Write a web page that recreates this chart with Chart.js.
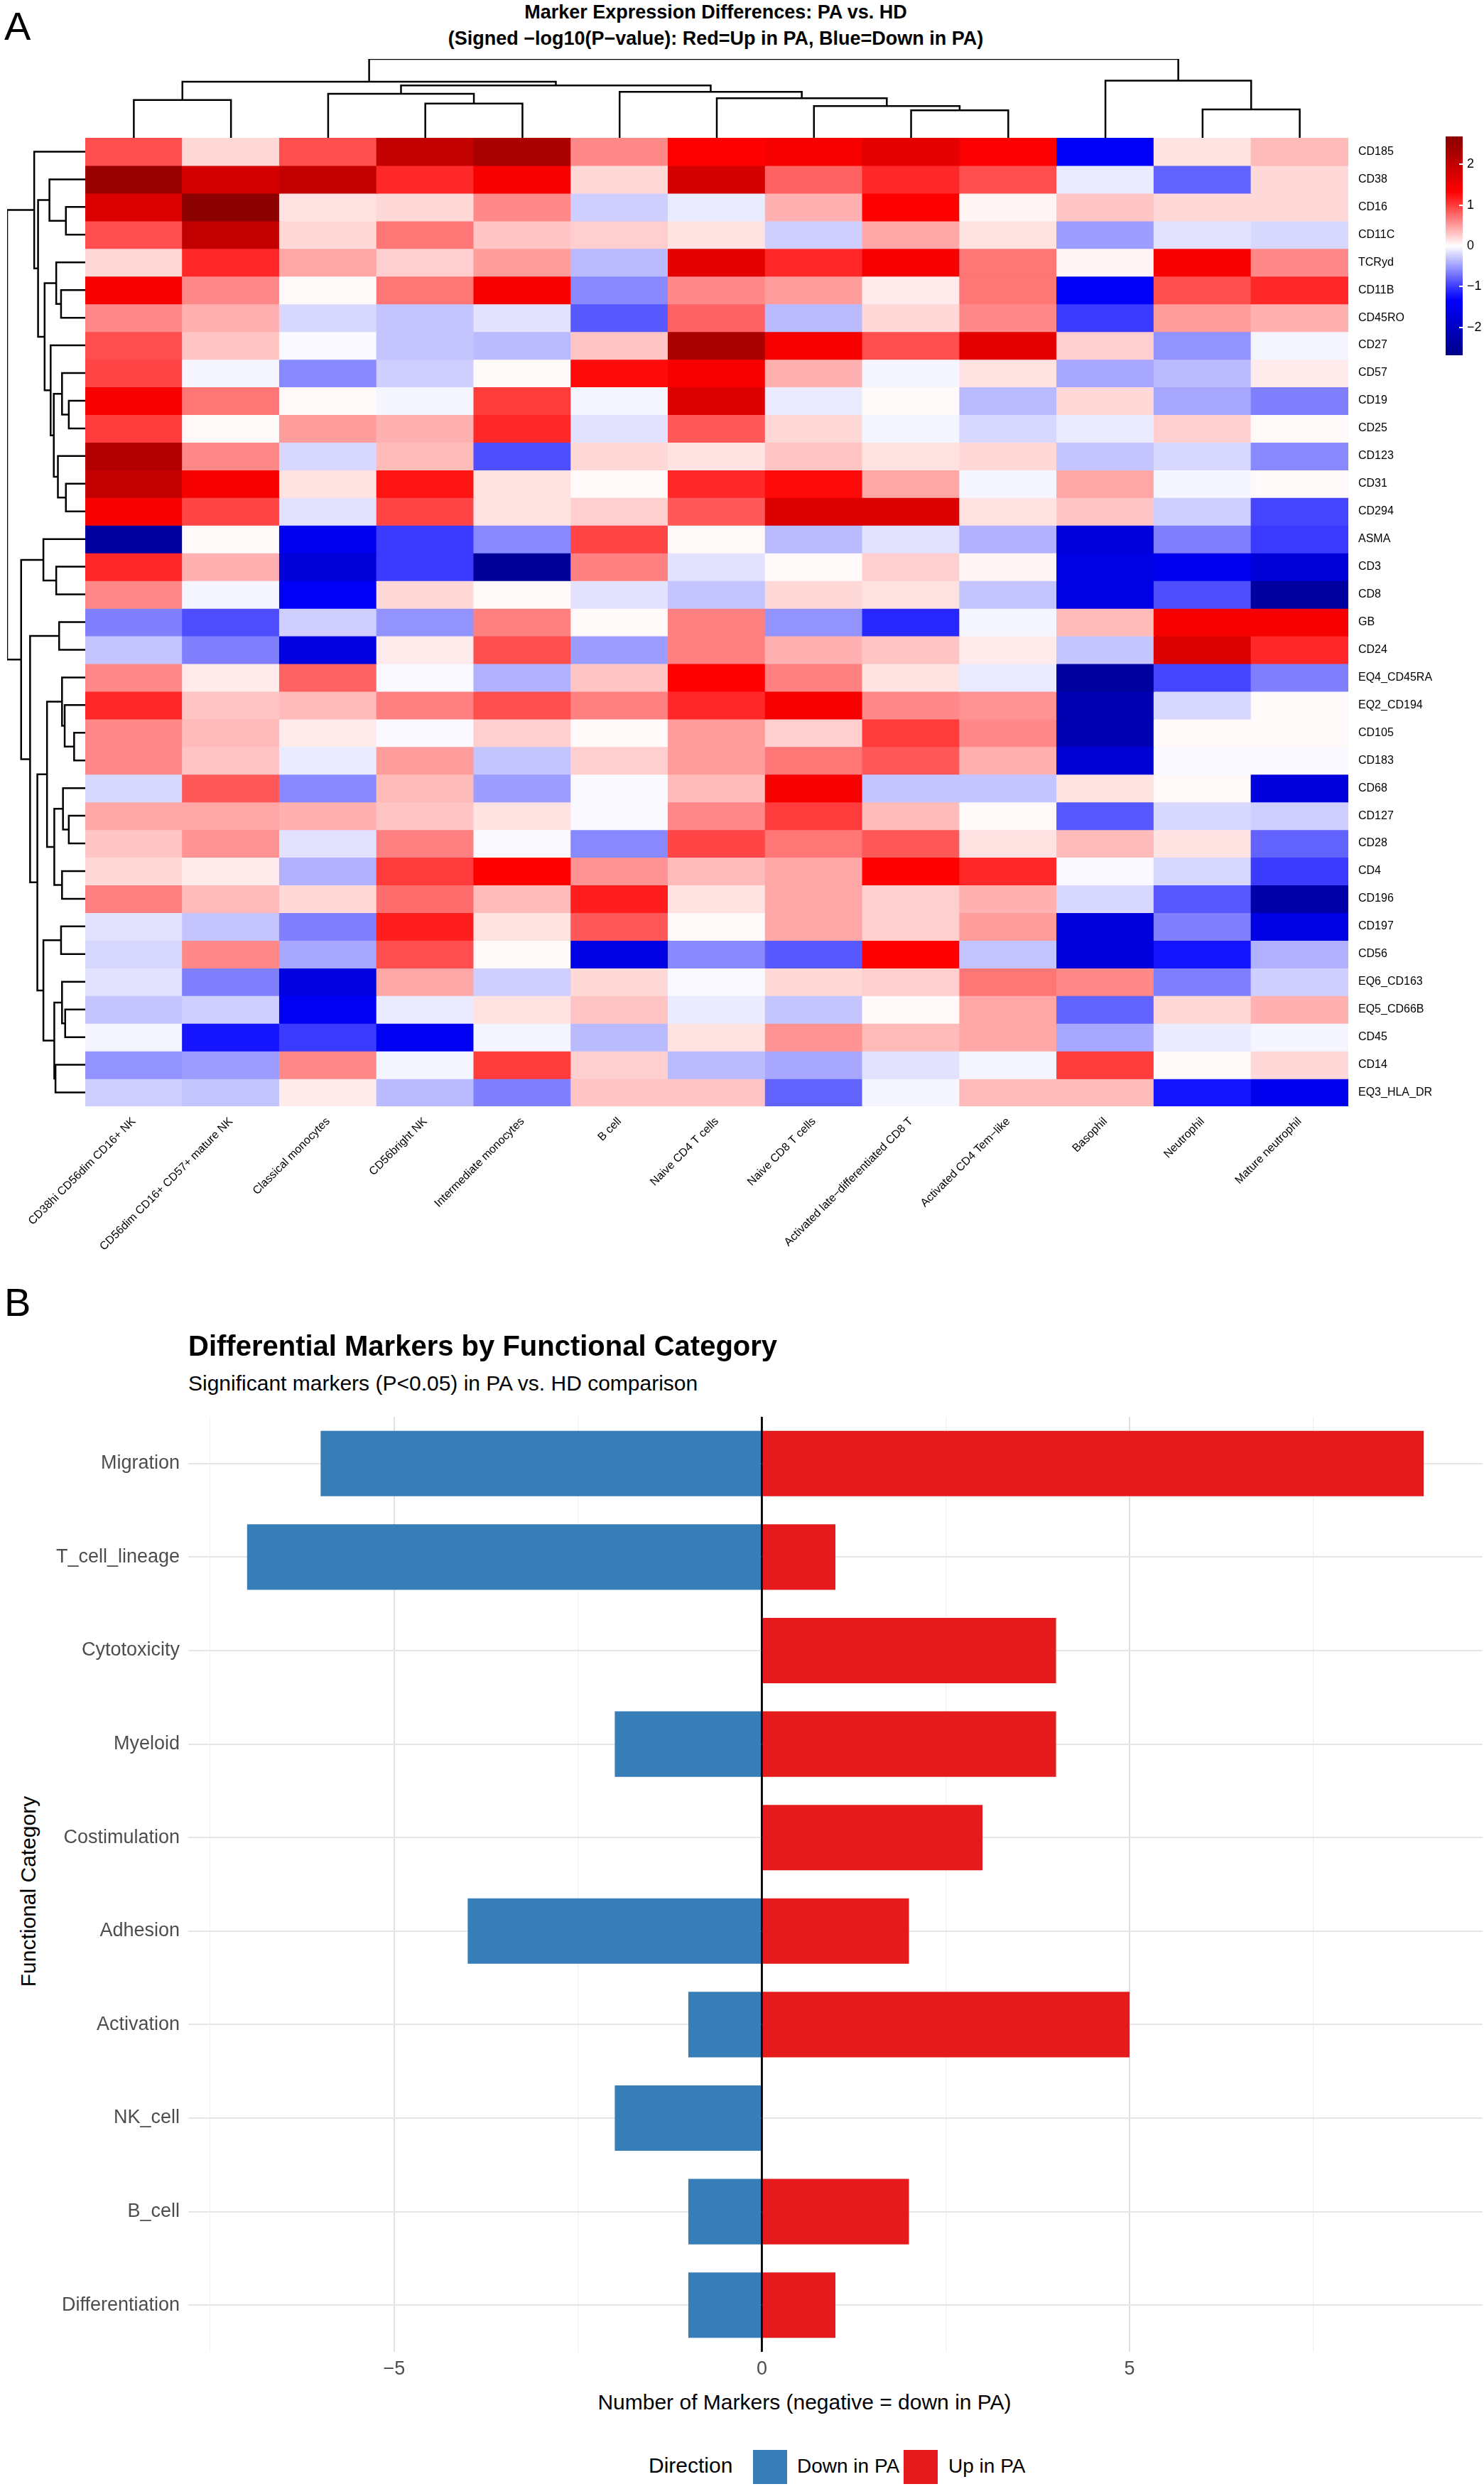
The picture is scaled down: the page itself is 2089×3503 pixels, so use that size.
<!DOCTYPE html>
<html><head><meta charset="utf-8">
<script src="https://cdn.jsdelivr.net/npm/chart.js@4"></script>
<style>
body{margin:0;background:#fff;width:2089px;height:3503px;position:relative;font-family:"Liberation Sans",Arial,sans-serif;overflow:hidden}
.abs{position:absolute}
canvas{display:block}
</style></head><body>
<script>
// ---------------- DATA ----------------
const cellTypes = ["CD38hi CD56dim CD16+ NK","CD56dim CD16+ CD57+ mature NK","Classical monocytes","CD56bright NK","Intermediate monocytes","B cell","Naive CD4 T cells","Naive CD8 T cells","Activated late\u2212differentiated CD8 T","Activated CD4 Tem\u2212like","Basophil","Neutrophil","Mature neutrophil"];
const markers = ["CD185","CD38","CD16","CD11C","TCRyd","CD11B","CD45RO","CD27","CD57","CD19","CD25","CD123","CD31","CD294","ASMA","CD3","CD8","GB","CD24","EQ4_CD45RA","EQ2_CD194","CD105","CD183","CD68","CD127","CD28","CD4","CD196","CD197","CD56","EQ6_CD163","EQ5_CD66B","CD45","CD14","EQ3_HLA_DR"];
const CD185=[0.9,0.2,0.9,2.0,2.3,0.6,1.3,1.4,1.6,1.35,-1.4,0.15,0.35];
const CD38=[2.5,1.8,2.0,1.1,1.4,0.2,1.8,0.8,1.1,0.9,-0.1,-0.8,0.2];
const CD16=[1.7,2.7,0.15,0.2,0.6,-0.25,-0.1,0.4,1.3,0.05,0.3,0.2,0.2];
const CD11C=[0.9,2.0,0.2,0.7,0.3,0.25,0.15,-0.25,0.45,0.15,-0.5,-0.15,-0.2];
const TCRyd=[0.2,1.1,0.45,0.25,0.5,-0.35,1.6,1.1,1.4,0.7,0.05,1.4,0.6];
const CD11B=[1.4,0.6,0.03,0.7,1.4,-0.6,0.6,0.5,0.1,0.7,-1.4,0.9,1.1];
const CD45RO=[0.6,0.4,-0.2,-0.3,-0.15,-0.85,0.8,-0.35,0.2,0.6,-1.0,0.5,0.4];
const CD27=[0.9,0.3,-0.03,-0.3,-0.35,0.3,2.3,1.4,0.9,1.6,0.25,-0.55,-0.05];
const CD57=[0.95,-0.05,-0.6,-0.25,0.03,1.25,1.4,0.4,-0.05,0.15,-0.45,-0.35,0.1];
const CD19=[1.4,0.7,0.03,-0.05,1.0,-0.05,1.7,-0.1,0.03,-0.35,0.2,-0.45,-0.65];
const CD25=[1.0,0.03,0.5,0.4,1.1,-0.15,0.85,0.2,-0.05,-0.2,-0.1,0.25,0.03];
const CD123=[2.2,0.6,-0.2,0.35,-0.9,0.2,0.15,0.3,0.15,0.2,-0.3,-0.2,-0.6];
const CD31=[2.0,1.4,0.15,1.2,0.15,0.03,1.1,1.25,0.45,-0.05,0.45,-0.05,0.03];
const CD294=[1.4,0.95,-0.15,0.95,0.15,0.25,0.85,1.7,1.7,0.15,0.3,-0.25,-0.95];
const ASMA=[-2.4,0.03,-1.5,-1.0,-0.6,0.95,0.03,-0.35,-0.15,-0.4,-1.7,-0.65,-1.0];
const CD3=[1.1,0.4,-1.75,-1.0,-2.5,0.65,-0.15,0.03,0.25,0.05,-1.6,-1.5,-1.75];
const CD8=[0.6,-0.05,-1.4,0.2,0.03,-0.15,-0.3,0.2,0.15,-0.3,-1.6,-0.9,-2.4];
const GB=[-0.65,-0.9,-0.25,-0.55,0.65,0.03,0.65,-0.55,-1.1,-0.05,0.35,1.4,1.4];
const CD24=[-0.3,-0.65,-1.65,0.1,0.9,-0.5,0.65,0.4,0.3,0.1,-0.3,1.7,1.1];
const EQ4_CD45RA=[0.6,0.1,0.8,-0.03,-0.4,0.3,1.3,0.65,0.15,-0.1,-2.4,-0.95,-0.65];
const EQ2_CD194=[1.1,0.3,0.35,0.65,0.9,0.65,1.1,1.4,0.6,0.55,-2.2,-0.2,0.03];
const CD105=[0.6,0.35,0.1,-0.03,0.25,0.03,0.5,0.25,1.0,0.6,-2.2,0.03,0.03];
const CD183=[0.6,0.3,-0.1,0.5,-0.3,0.25,0.5,0.7,0.85,0.4,-1.8,-0.03,-0.03];
const CD68=[-0.2,0.85,-0.6,0.35,-0.5,-0.03,0.35,1.4,-0.3,-0.3,0.15,0.03,-1.7];
const CD127=[0.45,0.45,0.4,0.3,0.15,-0.03,0.6,1.0,0.35,0.03,-0.85,-0.2,-0.25];
const CD28=[0.3,0.55,-0.15,0.65,-0.03,-0.6,0.95,0.7,0.85,0.15,0.35,0.15,-0.8];
const CD4=[0.2,0.1,-0.4,1.0,1.3,0.55,0.35,0.45,1.3,1.1,-0.03,-0.2,-1.0];
const CD196=[0.65,0.35,0.2,0.75,0.35,1.15,0.15,0.45,0.25,0.4,-0.2,-0.85,-2.3];
const CD197=[-0.15,-0.3,-0.65,1.15,0.15,0.85,0.03,0.45,0.25,0.5,-1.7,-0.65,-1.6];
const CD56=[-0.2,0.6,-0.45,0.9,0.03,-1.6,-0.6,-0.85,1.3,-0.3,-1.7,-1.2,-0.4];
const EQ6_CD163=[-0.15,-0.65,-1.65,0.45,-0.25,0.2,-0.03,0.2,0.25,0.7,0.6,-0.65,-0.25];
const EQ5_CD66B=[-0.3,-0.25,-1.45,-0.1,0.15,0.3,-0.1,-0.3,0.03,0.45,-0.8,0.2,0.4];
const CD45=[-0.05,-1.2,-1.0,-1.45,-0.05,-0.35,0.15,0.55,0.35,0.45,-0.45,-0.1,-0.05];
const CD14=[-0.55,-0.5,0.6,-0.05,1.0,0.25,-0.35,-0.45,-0.15,-0.05,1.0,0.03,0.2];
const EQ3_HLA_DR=[-0.25,-0.3,0.1,-0.35,-0.65,0.3,0.3,-0.8,-0.05,0.35,0.35,-1.2,-1.5];
const heatRows=[CD185,CD38,CD16,CD11C,TCRyd,CD11B,CD45RO,CD27,CD57,CD19,CD25,CD123,CD31,CD294,ASMA,CD3,CD8,GB,CD24,EQ4_CD45RA,EQ2_CD194,CD105,CD183,CD68,CD127,CD28,CD4,CD196,CD197,CD56,EQ6_CD163,EQ5_CD66B,CD45,CD14,EQ3_HLA_DR];
const legendTicks=[2,1,0,-1,-2];
// dendrograms: [height, left, right]
const colTree=[327,[233,[157,0,1],[217,[183,2,[142,3,4]],[191,5,[164,6,[132,7,[114,8,9]]]]]],[237,10,[118,11,12]]];
const rowTree=[323,
 [211,"CD185",[195,[148,"CD38",[80,"CD16","CD11C"]],[168,[120,"TCRyd",[100,"CD11B","CD45RO"]],[143,"CD27",[130,[96,"CD57",[68,"CD19","CD25"]],[113,"CD123",[80,"CD31","CD294"]]]]]]],
 [265,[173,"ASMA",[120,"CD3","CD8"]],[228,[108,"GB","CD24"],[198,
   [158,[96,"EQ4_CD45RA",[85,"EQ2_CD194",[46,"CD105","CD183"]]],[128,[92,"CD68",[68,"CD127","CD28"]],[96,"CD4","CD196"]]],
   [173,[100,"CD197","CD56"],[128,[96,"EQ6_CD163",[83,"EQ5_CD66B","CD45"]],[123,"CD14","EQ3_HLA_DR"]]]]]]];
// Panel B
const categories=["Migration","T_cell_lineage","Cytotoxicity","Myeloid","Costimulation","Adhesion","Activation","NK_cell","B_cell","Differentiation"];
const downInPA=[-6,-7,null,-2,null,-4,-1,-2,-1,-1];
const upInPA=[9,1,4,4,3,2,5,null,2,1];
const xTicksB=[-7.5,-5,-2.5,0,2.5,5,7.5];

// ---------------- HELPERS ----------------
const FONT='"Liberation Sans", Arial, sans-serif';
Chart.defaults.font.family=FONT;
Chart.defaults.animation=false;
function mix(a,b,t){return a.map((v,i)=>Math.round(v+(b[i]-v)*t));}
function heatColor(v){
  const stops=[[-2.65,[0,0,139]],[-1.3,[0,0,255]],[0,[255,255,255]],[1.3,[255,0,0]],[2.65,[139,0,0]]];
  v=Math.max(-2.65,Math.min(2.65,v));
  for(let i=0;i<stops.length-1;i++){
    if(v<=stops[i+1][0]){const t=(v-stops[i][0])/(stops[i+1][0]-stops[i][0]);const c=mix(stops[i][1],stops[i+1][1],t);return `rgb(${c[0]},${c[1]},${c[2]})`;}
  }
  return 'rgb(139,0,0)';
}
function addCanvas(x,y,w,h){
  const d=document.createElement('div');d.className='abs';d.style.cssText=`left:${x}px;top:${y}px;width:${w}px;height:${h}px`;
  const c=document.createElement('canvas');d.appendChild(c);document.body.appendChild(d);return c;
}
function addText(txt,x,y,css){
  const d=document.createElement('div');d.className='abs';d.textContent=txt;d.style.cssText=`left:${x}px;top:${y}px;white-space:nowrap;`+css;document.body.appendChild(d);return d;
}
function dendroSegments(tree,posOf,horizontal){
  const segs=[];
  function walk(n){
    if(!Array.isArray(n)) return {p:posOf(n),h:0};
    const a=walk(n[1]),b=walk(n[2]),h=n[0];
    const pts=[[a.p,a.h],[a.p,h],[b.p,h],[b.p,b.h]];
    segs.push(pts.map(q=>horizontal?{x:q[1],y:q[0]}:{x:q[0],y:q[1]}));
    return {p:(a.p+b.p)/2,h:h};
  }
  walk(tree);return segs;
}
function dendroChart(canvas,segs,xs,ys){
  return new Chart(canvas,{type:'scatter',
    data:{datasets:segs.map(s=>({data:s,showLine:true,borderColor:'#000',borderWidth:2.5,pointRadius:0,tension:0}))},
    options:{responsive:true,maintainAspectRatio:false,layout:{padding:0},
      plugins:{legend:{display:false},tooltip:{enabled:false}},
      scales:{x:Object.assign({type:'linear',display:false},xs),y:Object.assign({type:'linear',display:false},ys)}}});
}
function noPad(s){s.paddingLeft=0;s.paddingRight=0;s.paddingTop=0;s.paddingBottom=0;}

// ---------------- PANEL A ----------------
addText('A',6,4,'font-size:56px;');
addText('Marker Expression Differences: PA vs. HD',-37,2,'width:2089px;text-align:center;font-size:27px;font-weight:bold;');
addText('(Signed \u2212log10(P\u2212value): Red=Up in PA, Blue=Down in PA)',-37,39,'width:2089px;text-align:center;font-size:27px;font-weight:bold;');

const HX=120,HY=194,HW=1778,HH=1363,AXR=140,AXB=320;
// heatmap (canvas starts at page left, chart area starts at HX)
const hm=addCanvas(0,HY,HX+HW+AXR,HH+AXB);
new Chart(hm,{type:'bar',
  data:{labels:cellTypes,datasets:heatRows.map((r,i)=>({label:markers[i],data:r.map(()=>1),backgroundColor:r.map(heatColor),borderWidth:0,barPercentage:1,categoryPercentage:1,inflateAmount:0.6}))},
  options:{responsive:true,maintainAspectRatio:false,layout:{padding:{left:HX,right:0,top:0,bottom:0}},
    plugins:{legend:{display:false},tooltip:{enabled:false}},
    scales:{
      x:{stacked:true,grid:{display:false},border:{display:false},
         ticks:{minRotation:45,maxRotation:45,autoSkip:false,color:'#000',font:{size:16},padding:4},
         afterFit:s=>{s.height=AXB;noPad(s);}},
      y:{stacked:true,position:'right',min:0,max:markers.length,reverse:true,grid:{display:false},border:{display:false},
         afterBuildTicks:s=>{s.ticks=markers.map((m,i)=>({value:i+0.5}));},
         ticks:{autoSkip:false,color:'#000',font:{size:16},padding:6,callback:v=>markers[Math.floor(v)]},
         afterFit:s=>{s.width=AXR;noPad(s);}}
    }}});

// column dendrogram
const cd=addCanvas(HX,83,HW,HY-83);
dendroChart(cd,dendroSegments(colTree,i=>i+0.5,false),{min:0,max:cellTypes.length},{min:0,max:327});
// row dendrogram
const rd=addCanvas(10,HY,HX-10,HH);
dendroChart(rd,dendroSegments(rowTree,n=>markers.indexOf(n)+0.5,true),{min:0,max:323,reverse:true},{min:0,max:markers.length,reverse:true});

// colour legend
(function(){
  const top=192,h=308,left=2035,w=24,lo=-2.68,hi=2.68;
  const stops=[];for(let k=0;k<=20;k++){const v=hi-(hi-lo)*k/20;stops.push(heatColor(v)+' '+(k*5)+'%');}
  const g=document.createElement('div');g.className='abs';g.style.cssText=`left:${left}px;top:${top}px;width:${w}px;height:${h}px;background:linear-gradient(to bottom,${stops.join(',')})`;document.body.appendChild(g);
  legendTicks.forEach(t=>{const y=top+(hi-t)/(hi-lo)*h;
    const l=document.createElement('div');l.className='abs';l.style.cssText=`left:${left+w-5}px;top:${y-1}px;width:5px;height:2px;background:#fff`;document.body.appendChild(l);
    addText(String(t).replace('-','\u2212'),left+w+6,y-11,'font-size:18px;');});
})();

// ---------------- PANEL B ----------------
addText('B',6,1800,'font-size:56px;');
addText('Differential Markers by Functional Category',265,1872,'font-size:40px;font-weight:bold;');
addText('Significant markers (P<0.05) in PA vs. HD comparison',265,1930,'font-size:30px;');
addText('Functional Category',40,2662,'font-size:30px;transform:translate(-50%,-50%) rotate(-90deg);');
addText('Number of Markers (negative = down in PA)',88,3364,'width:2089px;text-align:center;font-size:30px;');

const BT=1994,BH=1316,BXA=70;
const bc=addCanvas(0,BT,2089,BH+BXA);
new Chart(bc,{type:'bar',
  data:{labels:categories,datasets:[
    {label:'Down in PA',data:downInPA,backgroundColor:'#377EB8',barPercentage:1,categoryPercentage:0.7,borderWidth:0},
    {label:'Up in PA',data:upInPA,backgroundColor:'#E41A1C',barPercentage:1,categoryPercentage:0.7,borderWidth:0}]},
  options:{indexAxis:'y',responsive:true,maintainAspectRatio:false,layout:{padding:{left:0,right:2,top:0,bottom:0}},
    plugins:{legend:{display:false},tooltip:{enabled:false}},
    scales:{
      x:{stacked:true,min:-7.8,max:9.8,border:{display:false},
        afterBuildTicks:s=>{s.ticks=xTicksB.map(v=>({value:v}));},
        grid:{color:c=>c.tick&&c.tick.value===0?'#000':(c.tick&&c.tick.value%5===0?'#E0E0E0':'#F0F0F0'),lineWidth:c=>c.tick&&c.tick.value===0?2.5:(c.tick&&c.tick.value%5===0?2:1.2),drawTicks:false},
        ticks:{padding:8,color:'#4D4D4D',font:{size:27},callback:v=>v%5===0?String(v).replace('-','\u2212'):''},
        afterFit:s=>{s.height=BXA;noPad(s);}},
      y:{stacked:true,border:{display:false},grid:{color:'#E6E6E6',lineWidth:2,drawTicks:false,offset:false},
        ticks:{padding:12,color:'#4D4D4D',font:{size:27}},
        afterFit:s=>{s.width=265;noPad(s);}}
    }},
  plugins:[{id:'zeroOnTop',afterDatasetsDraw(ch){const x=ch.scales.x.getPixelForValue(0);const c=ch.ctx;c.save();c.strokeStyle='#000';c.lineWidth=2.5;c.beginPath();c.moveTo(x,ch.chartArea.top);c.lineTo(x,ch.chartArea.bottom);c.stroke();c.restore();}}]
});
// legend B
(function(){
  const y=3448;
  addText('Direction',913,y+5,'font-size:30px;');
  const sw=(x,col)=>{const d=document.createElement('div');d.className='abs';d.style.cssText=`left:${x}px;top:${y}px;width:48px;height:48px;background:${col}`;document.body.appendChild(d);};
  sw(1060,'#377EB8');addText('Down in PA',1122,y+7,'font-size:28px;');
  sw(1272,'#E41A1C');addText('Up in PA',1335,y+7,'font-size:28px;');
})();
</script>
</body></html>
